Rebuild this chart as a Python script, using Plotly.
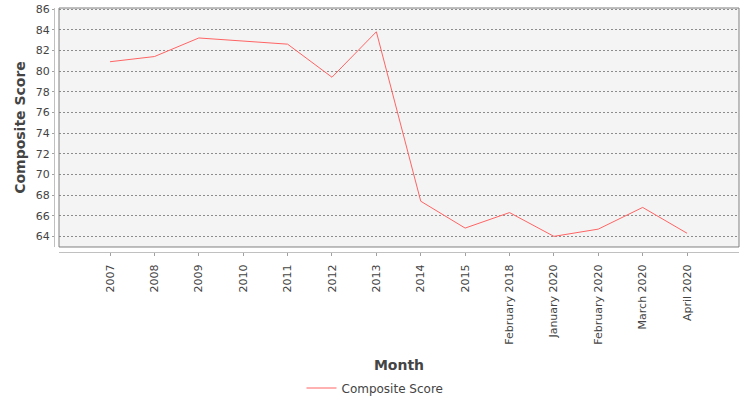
import plotly.graph_objects as go

# categories on the x axis
months = ["2007", "2008", "2009", "2010", "2011", "2012", "2013", "2014", "2015",
          "February 2018", "January 2020", "February 2020", "March 2020", "April 2020"]
# composite score per month
composite_score = [80.9, 81.4, 83.2, 82.9, 82.6, 79.4, 83.8, 67.4, 64.8,
                   66.3, 64.0, 64.7, 66.8, 64.3]
y_ticks = [64, 66, 68, 70, 72, 74, 76, 78, 80, 82, 84, 86]

font = "DejaVu Sans"
txt = "#444444"

fig = go.Figure()
fig.add_trace(go.Scatter(
    x=months, y=composite_score,
    mode="lines",
    name="Composite Score",
    line=dict(color="#ff6464", width=1),
))

# plot border (the axes are offset from it, like in JFreeChart)
fig.add_shape(type="rect", xref="x domain", yref="y domain",
              x0=0, y0=0, x1=1, y1=1,
              line=dict(color="#808080", width=1), layer="above")

fig.update_xaxes(
    type="category",
    range=[-1.15, 14.17],
    domain=[0.0073, 1],
    anchor="free", position=0,
    tickangle=-90,
    tickfont=dict(family=font, size=11, color=txt),
    ticklabelstandoff=4,
    showline=True, linecolor="#c0c0c0", linewidth=1,
    ticks="outside", ticklen=3, tickcolor="#a0a0a0",
    showgrid=False, zeroline=False,
    title=dict(text="<b>Month</b>", font=dict(family=font, size=14, color=txt), standoff=16),
    automargin=False,
)
fig.update_yaxes(
    range=[62.97, 86.1],
    domain=[0.0205, 1],
    anchor="free", position=0,
    tickvals=y_ticks,
    tickfont=dict(family=font, size=11, color=txt),
    showline=True, linecolor="#c0c0c0", linewidth=1,
    ticks="outside", ticklen=2, tickcolor="#a0a0a0",
    showgrid=True, gridcolor="#8c8c8c", gridwidth=1, griddash="2px,2px",
    zeroline=False,
    title=dict(text="<b>Composite Score</b>", font=dict(family=font, size=14, color=txt), standoff=5),
    automargin=False,
)

fig.update_layout(
    width=750, height=400,
    margin=dict(l=54, r=11, t=8, b=148),
    paper_bgcolor="white",
    plot_bgcolor="#f4f4f4",
    showlegend=True,
    legend=dict(orientation="h", xref="container", yref="container",
                x=0.5, y=0.03, xanchor="center", yanchor="middle",
                font=dict(family=font, size=12, color=txt),
                itemwidth=30),
)

# the page's default body margin would push the chart 8px off
fig.write_html("out.html", config={"displayModeBar": False},
               post_script="document.body.style.margin = '0';")
